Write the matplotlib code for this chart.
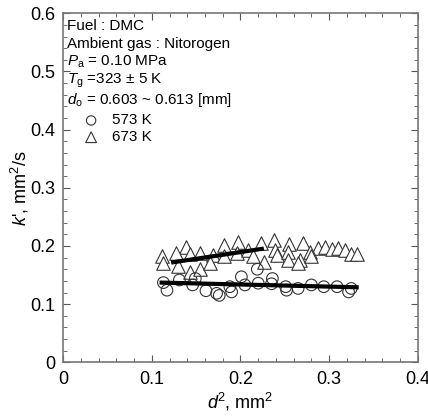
import matplotlib; matplotlib.use('Agg')
import numpy as np
from matplotlib import pyplot as plt
from matplotlib.ticker import MultipleLocator

plt.rcParams.update({
    'font.family': ['Liberation Sans', 'DejaVu Sans'],
    'mathtext.fontset': 'custom',
    'mathtext.it': 'Liberation Sans:italic',
    'mathtext.rm': 'Liberation Sans',
})

# 573 K (circles)
d2_573 = [0.113, 0.117, 0.131, 0.146, 0.149, 0.161, 0.173, 0.176, 0.190, 0.188,
          0.201, 0.205, 0.220, 0.219, 0.236, 0.235, 0.251, 0.252, 0.265, 0.280,
          0.294, 0.309, 0.322, 0.325]
k_573 = [0.137, 0.124, 0.1415, 0.133, 0.144, 0.123, 0.1186, 0.115, 0.121, 0.130,
         0.147, 0.133, 0.136, 0.160, 0.144, 0.135, 0.130, 0.124, 0.127, 0.133,
         0.130, 0.130, 0.121, 0.127]

# 673 K (triangles)
d2_673 = [0.1385, 0.181, 0.1975, 0.2228, 0.238, 0.255, 0.271, 0.288, 0.295, 0.303,
          0.310, 0.318, 0.325, 0.331, 0.111, 0.127, 0.143, 0.154, 0.169, 0.181,
          0.196, 0.209, 0.214, 0.239, 0.241, 0.254, 0.254, 0.267, 0.278, 0.280,
          0.113, 0.130, 0.143, 0.154, 0.166, 0.226, 0.265]
k_673 = [0.199, 0.2017, 0.207, 0.2056, 0.210, 0.203, 0.2045, 0.196, 0.198, 0.194,
         0.196, 0.193, 0.186, 0.186, 0.182, 0.188, 0.187, 0.188, 0.184, 0.183,
         0.188, 0.193, 0.183, 0.193, 0.184, 0.190, 0.176, 0.176, 0.190, 0.183,
         0.170, 0.1655, 0.156, 0.160, 0.171, 0.173, 0.170]

# fitted lines
fit_573_x = [0.111, 0.331]
fit_573_y = [0.137, 0.129]
fit_673_x = [0.124, 0.224]
fit_673_y = [0.172, 0.195]

xticks = [0, 0.1, 0.2, 0.3, 0.4]
xticklabels = ['0', '0.1', '0.2', '0.3', '0.4']
yticks = [0, 0.1, 0.2, 0.3, 0.4, 0.5, 0.6]
yticklabels = ['0', '0.1', '0.2', '0.3', '0.4', '0.5', '0.6']

fig = plt.figure(figsize=(4.28, 4.16), dpi=100)
ax = fig.add_axes([63.3/428, 1 - 362.3/416, 354.4/428, 349/416])

ax.scatter(d2_573, k_573, s=70, marker='o', facecolors='none',
           edgecolors='#333333', linewidths=0.8, zorder=3)
ax.scatter(d2_673, k_673, s=95, marker='^', facecolors='white',
           edgecolors='#333333', linewidths=0.8, zorder=2)
ax.plot(fit_573_x, fit_573_y, color='black', lw=3, zorder=4)
ax.plot(fit_673_x, fit_673_y, color='black', lw=3, zorder=4)

ax.set_xlim(0, 0.4)
ax.set_ylim(0, 0.6)
ax.set_xticks(xticks)
ax.set_xticklabels(xticklabels)
ax.set_yticks(yticks)
ax.set_yticklabels(yticklabels)
ax.xaxis.set_minor_locator(MultipleLocator(0.02))
ax.yaxis.set_minor_locator(MultipleLocator(0.02))
ax.tick_params(which='both', direction='in', top=True, right=True,
               labelsize=13, color='#555555')
ax.tick_params(which='major', length=5, pad=6)
ax.tick_params(which='minor', length=3)
for sp in ax.spines.values():
    sp.set_color('#777777')
    sp.set_linewidth(1.2)

ax.set_xlabel('$d$$^2$, mm$^2$', fontsize=13, labelpad=2)
ax.set_ylabel("$k$', mm$^2$/s", fontsize=13, labelpad=-1)

tfs = 11
ax.text(0.01, 0.965, 'Fuel : DMC', transform=ax.transAxes, fontsize=tfs, va='center')
ax.text(0.01, 0.913, 'Ambient gas : Nitorogen', transform=ax.transAxes, fontsize=tfs, va='center')
ax.text(0.01, 0.861, '$P_\\mathrm{a}$ = 0.10 MPa', transform=ax.transAxes, fontsize=tfs, va='center')
ax.text(0.01, 0.806, '$T_\\mathrm{g}$ =323 ± 5 K', transform=ax.transAxes, fontsize=tfs, va='center')
ax.text(0.01, 0.752, '$d_\\mathrm{o}$ = 0.603 ~ 0.613 [mm]', transform=ax.transAxes, fontsize=tfs, va='center')
ax.scatter([0.0785], [0.693], s=45, marker='o', facecolors='none', edgecolors='#333333',
           linewidths=0.8, transform=ax.transAxes, clip_on=False)
ax.scatter([0.0785], [0.645], s=60, marker='^', facecolors='none', edgecolors='#333333',
           linewidths=0.8, transform=ax.transAxes, clip_on=False)
ax.text(0.137, 0.693, '573 K', transform=ax.transAxes, fontsize=tfs, va='center')
ax.text(0.137, 0.645, '673 K', transform=ax.transAxes, fontsize=tfs, va='center')

fig.savefig('out.png', dpi=100)
